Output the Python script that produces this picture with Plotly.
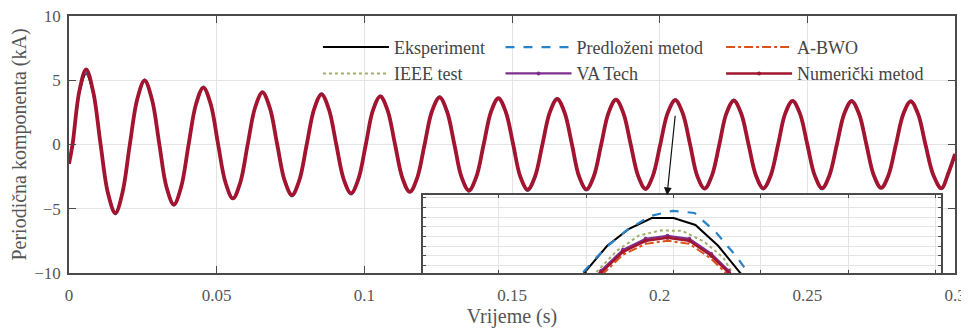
"""Periodic component of fault current: measurement vs. models, with zoomed inset."""

import plotly.graph_objects as go

# --- main waveform (s, kA): per half-cycle [zero crossing, mid, extreme, mid] ---
t_main = [
    0.0,
    0.0012, 0.0035, 0.0058, 0.0082,
    0.0107, 0.0132, 0.0157, 0.0181,
    0.0206, 0.0231, 0.0256, 0.0281,
    0.0306, 0.0330, 0.0355, 0.0380,
    0.0405, 0.0430, 0.0455, 0.0480,
    0.0505, 0.0530, 0.0555, 0.0580,
    0.0605, 0.0630, 0.0655, 0.0680,
    0.0705, 0.0730, 0.0755, 0.0780,
    0.0805, 0.0830, 0.0855, 0.0880,
    0.0905, 0.0930, 0.0955, 0.0980,
    0.1005, 0.1029, 0.1054, 0.1079,
    0.1104, 0.1129, 0.1154, 0.1179,
    0.1204, 0.1229, 0.1255, 0.1280,
    0.1305, 0.1329, 0.1354, 0.1379,
    0.1404, 0.1429, 0.1454, 0.1479,
    0.1504, 0.1528, 0.1553, 0.1578,
    0.1603, 0.1628, 0.1653, 0.1678,
    0.1703, 0.1727, 0.1752, 0.1777,
    0.1802, 0.1827, 0.1852, 0.1877,
    0.1902, 0.1927, 0.1952, 0.1977,
    0.2002, 0.2027, 0.2053, 0.2078,
    0.2103, 0.2127, 0.2152, 0.2177,
    0.2202, 0.2226, 0.2251, 0.2276,
    0.2301, 0.2326, 0.2351, 0.2376,
    0.2401, 0.2425, 0.2450, 0.2475,
    0.2500, 0.2525, 0.2550, 0.2575,
    0.2600, 0.2625, 0.2650, 0.2675,
    0.2700, 0.2725, 0.2750, 0.2775,
    0.2800, 0.2825, 0.2850, 0.2875,
    0.2900, 0.2927, 0.2954, 0.2978,
    0.3000,
]
i_exp = [
    -1.5,
    0, 4.0, 5.5, 3.95,
    0, -3.72, -5.25, -3.7,
    0, 3.5, 4.95, 3.48,
    0, -3.29, -4.65, -3.28,
    0, 3.13, 4.42, 3.12,
    0, -2.97, -4.2, -2.96,
    0, 2.86, 4.05, 2.85,
    0, -2.79, -3.94, -2.78,
    0, 2.76, 3.9, 2.74,
    0, -2.69, -3.8, -2.68,
    0, 2.65, 3.75, 2.64,
    0, -2.61, -3.69, -2.6,
    0, 2.59, 3.67, 2.57,
    0, -2.53, -3.58, -2.53,
    0, 2.55, 3.6, 2.53,
    0, -2.49, -3.52, -2.49,
    0, 2.5, 3.54, 2.49,
    0, -2.47, -3.49, -2.47,
    0, 2.47, 3.49, 2.45,
    0, -2.44, -3.45, -2.44,
    0, 2.44, 3.45, 2.43,
    0, -2.43, -3.43, -2.42,
    0, 2.42, 3.42, 2.41,
    0, -2.41, -3.41, -2.41,
    0, 2.4, 3.4, 2.4,
    0, -2.4, -3.4, -2.39,
    0, 2.39, 3.38, 2.39,
    0, -2.39, -3.38, -2.38,
    0, 2.38, 3.36, 2.37,
    0, -2.4, -3.4, -2.2,
    -0.75,
]
i_pred = [
    -1.5,
    0, 4.05, 5.6, 4.0,
    0, -3.8, -5.42, -3.78,
    0, 3.57, 5.06, 3.55,
    0, -3.36, -4.75, -3.35,
    0, 3.19, 4.51, 3.18,
    0, -3.03, -4.29, -3.02,
    0, 2.92, 4.13, 2.91,
    0, -2.85, -4.03, -2.84,
    0, 2.82, 3.98, 2.8,
    0, -2.75, -3.89, -2.74,
    0, 2.71, 3.83, 2.7,
    0, -2.67, -3.78, -2.66,
    0, 2.65, 3.75, 2.63,
    0, -2.59, -3.67, -2.59,
    0, 2.6, 3.68, 2.59,
    0, -2.55, -3.61, -2.55,
    0, 2.56, 3.62, 2.55,
    0, -2.53, -3.58, -2.53,
    0, 2.52, 3.57, 2.51,
    0, -2.5, -3.54, -2.5,
    0, 2.49, 3.53, 2.49,
    0, -2.49, -3.52, -2.48,
    0, 2.47, 3.5, 2.47,
    0, -2.47, -3.5, -2.47,
    0, 2.46, 3.48, 2.46,
    0, -2.46, -3.49, -2.45,
    0, 2.45, 3.46, 2.44,
    0, -2.45, -3.47, -2.44,
    0, 2.43, 3.44, 2.42,
    0, -2.46, -3.48, -2.25,
    -0.75,
]
i_model = [
    -1.5,
    0, 4.15, 5.85, 4.1,
    0, -3.8, -5.35, -3.75,
    0, 3.52, 4.98, 3.5,
    0, -3.3, -4.67, -3.28,
    0, 3.13, 4.43, 3.12,
    0, -2.97, -4.2, -2.96,
    0, 2.86, 4.05, 2.85,
    0, -2.79, -3.94, -2.78,
    0, 2.76, 3.9, 2.74,
    0, -2.69, -3.8, -2.68,
    0, 2.65, 3.75, 2.64,
    0, -2.61, -3.69, -2.6,
    0, 2.59, 3.67, 2.57,
    0, -2.53, -3.58, -2.53,
    0, 2.55, 3.6, 2.53,
    0, -2.49, -3.52, -2.49,
    0, 2.5, 3.54, 2.49,
    0, -2.47, -3.49, -2.47,
    0, 2.47, 3.49, 2.45,
    0, -2.44, -3.45, -2.44,
    0, 2.44, 3.45, 2.43,
    0, -2.43, -3.43, -2.42,
    0, 2.42, 3.42, 2.41,
    0, -2.41, -3.41, -2.41,
    0, 2.4, 3.4, 2.4,
    0, -2.4, -3.4, -2.39,
    0, 2.39, 3.38, 2.39,
    0, -2.39, -3.38, -2.38,
    0, 2.38, 3.36, 2.37,
    0, -2.4, -3.4, -2.2,
    -0.75,
]

# --- inset: zoom on the peak near t = 0.205 s ---
t_ins_exp = [0.20373, 0.20398, 0.20424, 0.20449, 0.20475, 0.20500, 0.20525, 0.20551, 0.20576, 0.20602]
i_ins_exp = [3.119, 3.263, 3.402, 3.490, 3.546, 3.546, 3.510, 3.402, 3.263, 3.119]

t_ins_pred = [0.20371, 0.20396, 0.20421, 0.20447, 0.20474, 0.20499, 0.20524, 0.20549, 0.20574, 0.20586, 0.20599]
i_ins_pred = [3.119, 3.263, 3.387, 3.485, 3.557, 3.583, 3.572, 3.469, 3.335, 3.263, 3.170]

t_ins_ieee = [0.20386, 0.20411, 0.20435, 0.20460, 0.20485, 0.20510, 0.20535, 0.20557, 0.20567, 0.20582]
i_ins_ieee = [3.119, 3.263, 3.376, 3.454, 3.482, 3.479, 3.423, 3.340, 3.263, 3.170]

t_ins_num = [0.20392, 0.20417, 0.20442, 0.20468, 0.20493, 0.20518, 0.20543, 0.20563, 0.20576]
i_ins_num = [3.119, 3.263, 3.371, 3.428, 3.443, 3.428, 3.351, 3.263, 3.170]
i_ins_vatech = [3.129, 3.273, 3.381, 3.438, 3.454, 3.438, 3.361, 3.273, 3.180]
i_ins_abwo = [3.103, 3.247, 3.356, 3.412, 3.428, 3.412, 3.335, 3.247, 3.155]

x_ticks = [0, 0.05, 0.1, 0.15, 0.2, 0.25, 0.3]
y_ticks = [-10, -5, 0, 5, 10]

FONT = "Liberation Serif"
AXIS_COL = "#4a4a4a"
GRID_COL = "#e4e4e4"

series = [
    # name, main y, inset x, inset y, color, dash, width, markers, legend column
    ("Eksperiment", i_exp, t_ins_exp, i_ins_exp, "#000000", "solid", 2, False, "legend"),
    ("Predloženi metod", i_pred, t_ins_pred, i_ins_pred, "#2a82c6", "dash", 2.2, False, "legend2"),
    ("A-BWO", i_model, t_ins_num, i_ins_abwo, "#D95319", "dashdot", 2, False, "legend3"),
    ("IEEE test", i_model, t_ins_ieee, i_ins_ieee, "#9fb06a", "dot", 2, False, "legend"),
    ("VA Tech", i_model, t_ins_num, i_ins_vatech, "#7E2F8E", "solid", 2.2, True, "legend2"),
    ("Numerički metod", i_model, t_ins_num, i_ins_num, "#A2142F", "solid", 3.8, True, "legend3"),
]

fig = go.Figure()

for name, y_main, tx, ty, col, dash, w, mk, leg in series:
    fig.add_trace(
        go.Scatter(
            x=t_main,
            y=y_main,
            mode="lines",
            name=name,
            showlegend=False,
            line=dict(color=col, dash=dash, width=w, shape="spline", smoothing=1.0),
            xaxis="x",
            yaxis="y",
        )
    )

for name, y_main, tx, ty, col, dash, w, mk, leg in series:
    fig.add_trace(
        go.Scatter(
            x=tx,
            y=ty,
            mode="lines+markers" if mk else "lines",
            name=name,
            legend=leg,
            line=dict(color=col, dash=dash, width=min(w, 2.5)),
            marker=dict(size=4, color=col),
            xaxis="x2",
            yaxis="y2",
        )
    )

# arrow from the main peak down to the inset
fig.add_annotation(
    x=0.2025, y=-3.95, ax=0.2053, ay=2.35,
    xref="x", yref="y", axref="x", ayref="y",
    text="", showarrow=True, arrowhead=2, arrowsize=1.3, arrowwidth=1.2,
    arrowcolor="#111111",
)

axis_common = dict(
    showline=True, linecolor=AXIS_COL, linewidth=1.5, mirror="ticks",
    ticks="inside", tickcolor=AXIS_COL, ticklen=7,
    showgrid=True, gridcolor=GRID_COL, zeroline=False, automargin=False,
    ticklabeloverflow="allow",
    tickfont=dict(family=FONT, size=17, color="#555555"),
)
inset_axis = dict(
    showline=True, linecolor=AXIS_COL, linewidth=1.5, mirror="ticks",
    ticks="inside", tickcolor=AXIS_COL, ticklen=3,
    showgrid=True, gridcolor=GRID_COL, zeroline=False, showticklabels=False,
)
legend_common = dict(
    orientation="v",
    yanchor="top", xanchor="left", y=0.95,
    bgcolor="rgba(255,255,255,0)",
    font=dict(family=FONT, size=18, color="#444444"),
    itemwidth=66,
    tracegroupgap=0,
)

# the page body adds an 8 px offset, so the figure is 8 px smaller than the window
fig.update_layout(
    width=961,
    height=324,
    margin=dict(l=61, r=14, t=8, b=59),
    paper_bgcolor="white",
    plot_bgcolor="white",
    font=dict(family=FONT, size=18, color="#555555"),
    xaxis=dict(
        axis_common, range=[0, 0.3], tickvals=x_ticks, domain=[0, 1],
        ticklabelstandoff=6,
        title=dict(text="Vrijeme (s)", font=dict(family=FONT, size=20), standoff=3),
    ),
    yaxis=dict(
        axis_common, range=[-10, 10], tickvals=y_ticks, domain=[0, 1],
        ticklabelstandoff=3,
        title=dict(text="Periodična komponenta (kA)", font=dict(family=FONT, size=20), standoff=4),
    ),
    xaxis2=dict(
        inset_axis, range=[0.20213, 0.20806], dtick=0.001, tick0=0.2,
        domain=[0.3995, 0.984], anchor="y2",
    ),
    yaxis2=dict(
        inset_axis, range=[3.261, 3.663], dtick=0.05, tick0=3.3,
        domain=[0, 0.302], anchor="x2",
    ),
    legend=dict(legend_common, x=0.281),
    legend2=dict(legend_common, x=0.487),
    legend3=dict(legend_common, x=0.736),
)

fig.write_html("out.html")
